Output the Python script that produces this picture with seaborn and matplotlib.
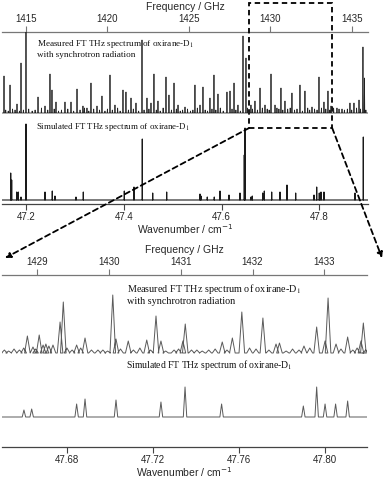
import matplotlib
matplotlib.use("Agg")
import pandas as pd
import matplotlib.pyplot as plt
from matplotlib.patches import Rectangle, ConnectionPatch
import seaborn as sns

GHZ_PER_CM = 29.9792458

# wavenumber windows (cm-1)
overview_lim = (47.1503, 47.8993)
zoom_lim = (47.6499, 47.8196)
box_lim = (47.656, 47.826)

# overview: measured spectrum, strong lines (cm-1, arb. units)
meas_pos = [47.1544, 47.1667, 47.1810, 47.1892, 47.1994, 47.2240, 47.2383, 47.2485,
            47.2526, 47.2608, 47.2792, 47.2915, 47.3038, 47.3160, 47.3242, 47.3324,
            47.3447, 47.3549, 47.3713, 47.3815, 47.3979, 47.4040, 47.4143, 47.4245,
            47.4368, 47.4470, 47.4552, 47.4613, 47.4695, 47.4859, 47.4920, 47.5023,
            47.5105, 47.5248, 47.5452, 47.5555, 47.5616, 47.5759, 47.5841, 47.5923,
            47.6107, 47.6169, 47.6251, 47.6332, 47.6435, 47.6496, 47.6598, 47.6680,
            47.6783, 47.6885, 47.7008, 47.7090, 47.7212, 47.7294, 47.7437, 47.7601,
            47.7703, 47.7847, 47.7990, 47.8092, 47.8174, 47.8236, 47.8358, 47.8461,
            47.8624, 47.8706, 47.8809, 47.8890, 47.8921]
meas_int = [37, 28, 9, 50, 85, 16, 7, 39,
            23, 11, 11, 11, 24, 7, 5, 30,
            7, 17, 38, 8, 23, 21, 15, 10,
            73, 15, 10, 39, 12, 36, 18, 30,
            8, 6, 28, 8, 26, 15, 38, 19,
            21, 22, 30, 8, 77, 55, 8, 12,
            25, 8, 39, 8, 25, 12, 20, 28,
            22, 6, 36, 11, 22, 7, 5, 4,
            10, 10, 13, 66, 35]

# overview: measured spectrum, weak lines / noise
weak_pos = [47.158, 47.163, 47.172, 47.177, 47.186, 47.194, 47.205, 47.212, 47.218, 47.231,
            47.244, 47.257, 47.266, 47.272, 47.285, 47.297, 47.310, 47.319, 47.328, 47.338,
            47.350, 47.361, 47.366, 47.376, 47.387, 47.392, 47.409, 47.419, 47.430, 47.441,
            47.451, 47.466, 47.474, 47.480, 47.497, 47.507, 47.515, 47.520, 47.530, 47.536,
            47.541, 47.550, 47.566, 47.571, 47.580, 47.588, 47.597, 47.603, 47.621, 47.629,
            47.638, 47.653, 47.663, 47.673, 47.683, 47.693, 47.697, 47.713, 47.717, 47.725,
            47.735, 47.740, 47.749, 47.754, 47.765, 47.776, 47.780, 47.790, 47.795, 47.804,
            47.813, 47.821, 47.829, 47.840, 47.851, 47.857, 47.866, 47.876, 47.884, 47.895]
weak_int = [3, 2, 4, 3, 2, 3, 4, 2, 3, 5,
            3, 4, 2, 3, 4, 2, 3, 5, 2, 4,
            3, 2, 4, 3, 5, 2, 3, 4, 2, 3,
            4, 3, 2, 5, 3, 4, 2, 3, 4, 2,
            3, 5, 3, 2, 4, 3, 5, 2, 4, 3,
            2, 5, 4, 3, 5, 4, 3, 5, 4, 3,
            4, 5, 3, 4, 2, 5, 3, 4, 3, 5,
            4, 3, 5, 4, 3, 4, 3, 5, 4, 3]

# overview: simulated stick spectrum
sim_pos = [47.1681, 47.1701, 47.1804, 47.1836, 47.1892, 47.1994, 47.2383, 47.2532,
           47.2587, 47.3017, 47.3167, 47.4006, 47.4204, 47.4374, 47.4587, 47.4873,
           47.5555, 47.5575, 47.5704, 47.5847, 47.5964, 47.6148, 47.6373, 47.6461,
           47.6476, 47.6598, 47.6625, 47.6838, 47.6871, 47.7022, 47.7192, 47.7335,
           47.7513, 47.7888, 47.7943, 47.7996, 47.8031, 47.8092, 47.8727, 47.8897]
sim_int = [27, 20, 8, 8, 3, 76, 8, 9,
           4, 3, 8, 9, 13, 61, 7, 8,
           6, 4, 3, 3, 9, 5, 7, 45,
           72, 3, 4, 7, 9, 8, 8, 15,
           7, 5, 13, 7, 8, 8, 7, 63]

# zoom: measured spectrum
zmeas_pos = [47.6617, 47.6643, 47.6672, 47.6690, 47.6703, 47.6717, 47.6736, 47.6769,
             47.6784, 47.6801, 47.6846, 47.6885, 47.6945, 47.6968, 47.7014, 47.7029,
             47.7086, 47.7172, 47.7215, 47.7238, 47.7299, 47.7340, 47.7351, 47.7405,
             47.7523, 47.7570, 47.7614, 47.7712, 47.7773, 47.7789, 47.7903, 47.7962,
             47.8001, 47.8015, 47.8052, 47.8106, 47.8168, 47.8179]
zmeas_int = [17, 6, 18, 8, 9, 7, 8, 31,
             51, 5, 8, 15, 3, 3, 58, 14,
             12, 13, 37, 12, 3, 12, 29, 3,
             11, 15, 41, 35, 9, 10, 7, 26,
             12, 55, 9, 16, 12, 30]

# zoom: measured baseline ripple
zweak_pos = [47.6510, 47.6530, 47.6555, 47.6580, 47.6600, 47.6655, 47.6825, 47.6865,
             47.6915, 47.6990, 47.7050, 47.7110, 47.7140, 47.7190, 47.7260, 47.7320,
             47.7380, 47.7430, 47.7460, 47.7490, 47.7545, 47.7650, 47.7680, 47.7740,
             47.7820, 47.7850, 47.7880, 47.7930, 47.8075, 47.8130, 47.8150, 47.8190]
zweak_int = [3, 2, 4, 3, 5, 4, 3, 5,
             3, 2, 4, 3, 5, 3, 2, 4,
             3, 2, 3, 4, 3, 5, 4, 3,
             2, 4, 3, 5, 4, 3, 5, 3]

# zoom: simulated spectrum
zsim_pos = [47.6601, 47.6637, 47.6846, 47.6885, 47.7029, 47.7238, 47.7350, 47.7520,
            47.7900, 47.7962, 47.8001, 47.8050, 47.8106]
zsim_int = [7, 8, 13, 18, 17, 15, 30, 13,
            11, 30, 13, 13, 16]

freq_ticks_overview = [1415, 1420, 1425, 1430, 1435]
freq_ticks_zoom = [1429, 1430, 1431, 1432, 1433]
wn_ticks_overview = [47.2, 47.4, 47.6, 47.8]
wn_ticks_zoom = [47.68, 47.72, 47.76, 47.80]

meas_label = "Measured FT THz spectrum of oxirane-D$_1$\nwith synchrotron radiation"
sim_label = "Simulated FT THz spectrum of oxirane-D$_1$"


def line_profile(pos, inten, lims, half_width, base):
    """Turn a line list into a drawable profile (narrow triangles on a baseline)."""
    pts = [(lims[0], base)]
    for p, h in sorted(zip(pos, inten)):
        pts += [(p - half_width, base), (p, base + h), (p + half_width, base)]
    pts.append((lims[1], base))
    return pd.DataFrame(pts, columns=["wn", "y"])


def style_panel(ax, lims, wn_ticks, fr_ticks, wn_fmt):
    ax.set_xlim(*lims)
    ax.set_ylim(0, 172)
    for s in ["left", "right", "top"]:
        ax.spines[s].set_visible(False)
    ax.spines["bottom"].set_color("#444444")
    ax.spines["bottom"].set_linewidth(0.9)
    ax.set_yticks([])
    ax.set_ylabel("")
    ax.set_xticks(wn_ticks)
    ax.set_xticklabels([wn_fmt.format(t) for t in wn_ticks])
    ax.tick_params(axis="x", direction="out", length=4, width=0.8, labelsize=7,
                   pad=1.5, color="#444444", bottom=True)
    ax.set_xlabel("Wavenumber / cm$^{-1}$", fontsize=7.5, labelpad=0.5)

    sec = ax.secondary_xaxis("top", functions=(lambda w: w * GHZ_PER_CM,
                                               lambda f: f / GHZ_PER_CM))
    sec.set_xticks(fr_ticks)
    sec.tick_params(direction="out", length=4, width=0.8, labelsize=7, pad=1.5,
                    color="#777777")
    sec.spines["top"].set_color("#777777")
    sec.spines["top"].set_linewidth(0.9)
    sec.set_xlabel("Frequency / GHz", fontsize=7.5, labelpad=3)
    return sec


sns.set_style("white")
plt.rcParams["font.family"] = ["Liberation Sans", "DejaVu Sans"]

fig = plt.figure(figsize=(3.88, 4.8), dpi=100)
ax_top = fig.add_axes([2 / 388, 1 - 204 / 480, 366 / 388, 172 / 480])
ax_bot = fig.add_axes([2 / 388, 1 - 447 / 480, 365 / 388, 172 / 480])

# overview panel
top_meas = line_profile(meas_pos + weak_pos, meas_int + weak_int, overview_lim, 0.0006, 91)
top_sim = line_profile(sim_pos, sim_int, overview_lim, 0.0002, 4)
sns.lineplot(data=top_meas, x="wn", y="y", sort=False, estimator=None, ax=ax_top,
             color="#222222", lw=0.55)
sns.lineplot(data=top_sim, x="wn", y="y", sort=False, estimator=None, ax=ax_top,
             color="#1a1a1a", lw=0.8)
style_panel(ax_top, overview_lim, wn_ticks_overview, freq_ticks_overview, "{:.1f}")

# zoom panel
bot_meas = line_profile(zmeas_pos + zweak_pos, zmeas_int + zweak_int, zoom_lim, 0.0013, 94)
bot_sim = line_profile(zsim_pos, zsim_int, zoom_lim, 0.0008, 30)
sns.lineplot(data=bot_meas, x="wn", y="y", sort=False, estimator=None, ax=ax_bot,
             color="#5a5a5a", lw=0.7)
sns.lineplot(data=bot_sim, x="wn", y="y", sort=False, estimator=None, ax=ax_bot,
             color="#5a5a5a", lw=0.7)
style_panel(ax_bot, zoom_lim, wn_ticks_zoom, freq_ticks_zoom, "{:.2f}")

serif = dict(family=["Liberation Serif", "DejaVu Serif"], math_fontfamily="stix",
             color="#111111")
ax_top.text(0.096, 0.965, meas_label, transform=ax_top.transAxes, va="top",
            linespacing=1.2, fontsize=6.6, **serif)
ax_top.text(0.093, 0.448, sim_label, transform=ax_top.transAxes, va="center",
            fontsize=6.4, **serif)
ax_bot.text(0.342, 0.96, meas_label, transform=ax_bot.transAxes, va="top",
            linespacing=1.2, fontsize=7.3, **serif)
ax_bot.text(0.34, 0.477, sim_label, transform=ax_bot.transAxes, va="center",
            fontsize=6.9, **serif)

# dashed zoom box and connectors
dash = dict(color="black", lw=1.3, linestyle=(0, (3, 2)))
ax_top.add_patch(Rectangle((box_lim[0], 76), box_lim[1] - box_lim[0], 125,
                           fill=False, clip_on=False, **dash))
for xa, xb in [(box_lim[0], 47.6513), (box_lim[1], 47.8266)]:
    con = ConnectionPatch(xyA=(xa, 76), coordsA=ax_top.transData,
                          xyB=(xb, 189), coordsB=ax_bot.transData,
                          arrowstyle="-|>", mutation_scale=8, **dash)
    fig.add_artist(con)

fig.savefig("out.png", dpi=100)
